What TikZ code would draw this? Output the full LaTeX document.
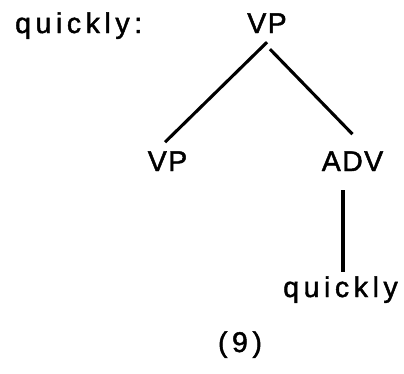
\documentclass[tikz,border=0pt]{standalone}
\usepackage{fontspec}
\setmainfont{Liberation Sans}
\usetikzlibrary{calc}
\newfontfamily\widefont[LetterSpace=16,FakeBold=1.6]{Liberation Sans}
\newfontfamily\capfont[LetterSpace=5,FakeBold=1.6]{Liberation Sans}
\begin{document}
\begin{tikzpicture}[x=1pt,y=-1pt,
  lbl/.style={inner sep=0pt,anchor=base,font=\fontsize{28.5}{34}\selectfont\widefont},
  cat/.style={inner sep=0pt,anchor=base,font=\fontsize{28.5}{34}\selectfont\capfont},
  edge/.style={line width=3.1pt}]
\useasboundingbox (0,0) rectangle (404,373);
\node[lbl,anchor=base west] (head) at (15,33) {quickly:};
\node[cat] (top) at (267,33) {VP};
\node[cat] (vp) at (167.5,171) {VP};
\node[cat] (adv) at (352.5,171) {ADV};
\node[lbl] (word) at (340.5,297) {quickly};
\node[lbl] (num) at (240,352) {(9)};
\draw[edge] ($(top.south)+(0,9)$) -- ($(vp.north)+(-2.5,-9)$);
\draw[edge] ($(top.south)+(3,16)$) -- ($(adv.north)+(0,-17)$);
\draw[edge] ($(adv.south)+(-9.5,19)$) -- ($(word.north)+(2.5,-4.5)$);
\end{tikzpicture}
\end{document}
